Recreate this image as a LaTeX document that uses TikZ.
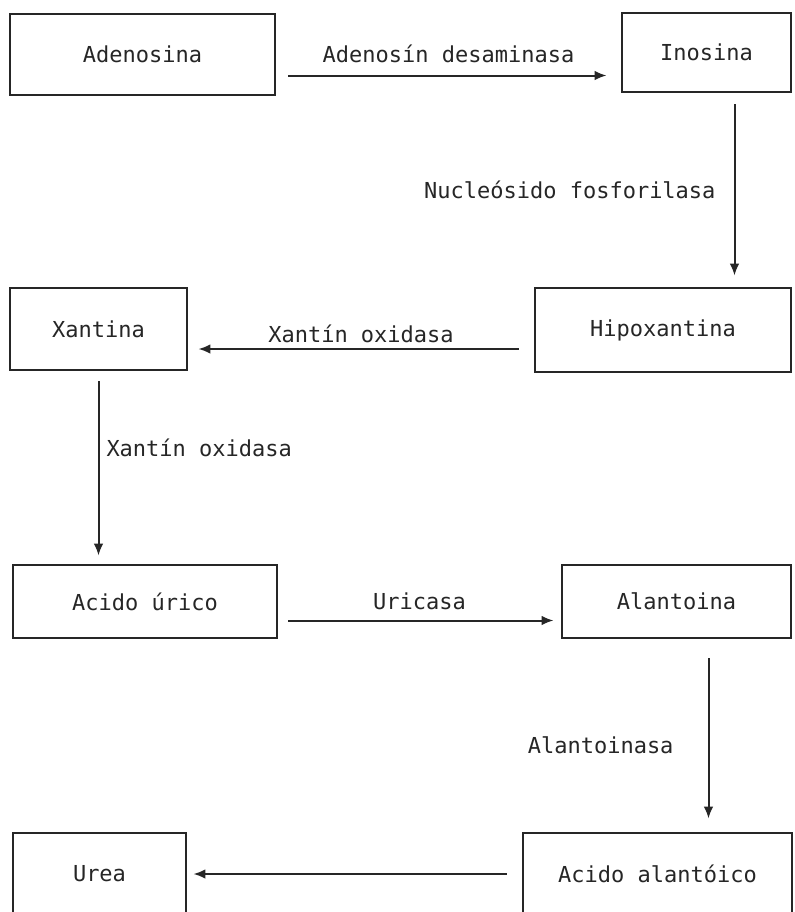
\documentclass[tikz,border=0pt]{standalone}
\usepackage{fontspec}
\newfontfamily\gothic{DejaVu Sans Mono}
\usetikzlibrary{arrows.meta}

\begin{document}
\begin{tikzpicture}[
  x=0.5pt, y=-0.5pt,
  >={Latex[length=6pt, width=4.8pt]},
  box/.style={draw=black!85, line width=1.4pt, inner sep=0pt,
              font=\gothic\fontsize{11}{13}\selectfont, text=black!85},
  arrow/.style={->, line width=1pt, draw=black!85},
  lbl/.style={font=\gothic\fontsize{11}{13}\selectfont, text=black!85,
              inner sep=2pt},
]
\useasboundingbox (0,0) rectangle (794,912);

%% ── Fila 1 : Adenosina -> Inosina ───────────────────────────────────────
\node[box, minimum width=132.5pt, minimum height=40.5pt] (adenosina)
  at (142.5,54.5) {Adenosina};
\node[box, minimum width=84.5pt, minimum height=39.5pt] (inosina)
  at (706.5,52.5) {Inosina};

%% ── Fila 2 : Xantina <- Hipoxantina ─────────────────────────────────────
\node[box, minimum width=128pt, minimum height=42pt] (hipox)
  at (663,330) {Hipoxantina};
\node[box, minimum width=88.5pt, minimum height=41pt] (xantina)
  at (98.5,329) {Xantina};

%% ── Fila 3 : Acido úrico -> Alantoina ───────────────────────────────────
\node[box, minimum width=132pt, minimum height=36.5pt] (urico)
  at (145,601.5) {Acido úrico};
\node[box, minimum width=114.5pt, minimum height=36.5pt] (alantoina)
  at (676.5,601.5) {Alantoina};

%% ── Fila 4 : Urea <- Acido alantóico ────────────────────────────────────
\node[box, minimum width=86.5pt, minimum height=41pt] (urea)
  at (99.5,874) {Urea};
\node[box, minimum width=134.5pt, minimum height=41pt] (alantoico)
  at (657.5,874) {Acido alantóico};

%% ── Flechas horizontales ────────────────────────────────────────────────
\draw[arrow, shorten <=6pt, shorten >=7pt]
  ([yshift=-10.5pt]adenosina.east) -- ([yshift=-10.5pt]adenosina.east -| inosina.west)
  node[lbl, midway, above=4pt] (desaminasa) {Adenosín desaminasa};

\draw[arrow, shorten <=7.5pt, shorten >=5pt]
  ([yshift=-9.5pt]hipox.west) -- ([yshift=-9.5pt]hipox.west -| xantina.east)
  node[lbl, midway, above=0.8pt] (oxidasaA) {Xantín oxidasa};

\draw[arrow, shorten <=5pt, shorten >=3.5pt]
  ([yshift=-9.5pt]urico.east) -- ([yshift=-9.5pt]urico.east -| alantoina.west)
  node[lbl, midway, above=3pt] (uricasa) {Uricasa};

\draw[arrow, shorten <=7.5pt, shorten >=3pt]
  (alantoico.west) -- (alantoico.west -| urea.east);

%% ── Flechas verticales ──────────────────────────────────────────────────
\draw[arrow, shorten <=5.5pt, shorten >=5.5pt]
  ([xshift=14pt]inosina.south) -- ([xshift=14pt]inosina.south |- hipox.north)
  node[lbl, midway, left=7pt] (fosforilasa) {Nucleósido fosforilasa};

\draw[arrow, shorten <=5pt, shorten >=4pt]
  (xantina.south) -- (xantina.south |- urico.north)
  node[lbl, pos=0.4, right=1.5pt] (oxidasaB) {Xantín oxidasa};

\draw[arrow, shorten <=9.5pt, shorten >=6.5pt]
  ([xshift=16pt]alantoina.south) -- ([xshift=16pt]alantoina.south |- alantoico.north)
  node[lbl, pos=0.55, left=15pt] (alantoinasa) {Alantoinasa};

\end{tikzpicture}
\end{document}
